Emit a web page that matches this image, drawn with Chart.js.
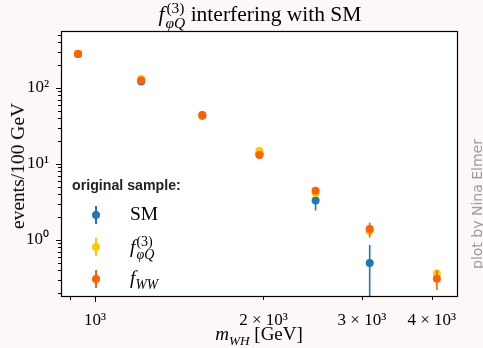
<!DOCTYPE html>
<html>
<head>
<meta charset="utf-8">
<script src="https://cdn.jsdelivr.net/npm/chart.js"></script>
<style>
  body { margin: 0; background: #fdf8f7; }
  #wrap { position: relative; width: 483px; height: 348px; font-family: "Liberation Serif", serif; color: #000; }
  canvas { position: absolute; left: 0; top: 0; }
  .txt { position: absolute; white-space: nowrap; }
  .stack { display: inline-block; vertical-align: -0.45em; line-height: 0.95; font-size: 0.72em; margin-left: 1px; }
  .stack span { display: block; }
  #title { left: 0; width: 520px; top: 1px; text-align: center; font-size: 21.5px; }
  #xlabel { left: 0; width: 518px; top: 323px; text-align: center; font-size: 19px; }
  #ylabel { left: 18px; top: 166px; font-size: 19.5px; transform: translate(-50%, -50%) rotate(-90deg); }
  #credit { left: 477px; top: 204px; font-family: "DejaVu Sans", sans-serif; font-size: 14px; color: #9a9a9a; transform: translate(-50%, -50%) rotate(-90deg); }
  #legtitle { left: 72px; top: 177px; font-family: "Liberation Sans", sans-serif; font-weight: bold; font-size: 14.2px; color: #222; }
  .entry { position: absolute; left: 86px; height: 22px; }
  .mk { position: absolute; left: 0; top: 0; width: 20px; height: 22px; }
  .mk .bar { position: absolute; left: 9px; top: 2px; width: 2px; height: 18px; }
  .mk .dot { position: absolute; left: 6px; top: 7px; width: 8px; height: 8px; border-radius: 50%; }
  .entry .lab { position: absolute; left: 44px; top: -1px; font-size: 19.5px; white-space: nowrap; }
</style>
</head>
<body>
<div id="wrap">
  <canvas id="chart" width="483" height="348"></canvas>
  <div class="txt" id="title"><i>f</i><span class="stack"><span>(3)</span><span><i>φQ</i></span></span> interfering with SM</div>
  <div class="txt" id="xlabel"><i>m</i><sub style="font-size:0.7em"><i>WH</i></sub> [GeV]</div>
  <div class="txt" id="ylabel">events/100 GeV</div>
  <div class="txt" id="credit">plot by Nina Elmer</div>
  <div class="txt" id="legtitle">original sample:</div>
  <div id="legend"></div>
</div>
<script>
const massBins = [932, 1209, 1555, 1967, 2479, 3097, 4084];
const smEvents = [280, 122, 43, 13.5, 3.3, 0.50, null];
const smErrors = [8, 5, 2.5, 1, 0.85, 0.36, null];
const fphiqEvents = [282, 131, 44, 14.8, 4.15, 1.31, 0.36];
const fphiqErrors = [3, 2, 1, 0.4, 0.3, 0.25, 0.05];
const fwwEvents = [280, 125, 44, 13.1, 4.45, 1.40, 0.31];
const fwwErrors = [3, 2, 1, 0.4, 0.35, 0.3, 0.09];

const yMajor = [1, 10, 100];
const yMinor = [0.2, 0.3, 0.4, 0.5, 0.6, 0.7, 0.8, 0.9, 2, 3, 4, 5, 6, 7, 8, 9, 20, 30, 40, 50, 60, 70, 80, 90, 200, 300, 400, 500];
const xMajor = [1000];
const xMinor = [900, 2000, 3000, 4000];
const xLabelled = [1000, 2000, 3000, 4000];

const sup = { '0': '⁰', '1': '¹', '2': '²', '3': '³' };

const colors = { sm: '#1f77b4', fphiq: '#ffc800', fww: '#ff6100' };

function toPoints(vals) {
  return massBins.map((m, i) => ({ x: m, y: vals[i] }));
}

const errorBars = {
  id: 'errorBars',
  beforeDatasetDraw(chart, args) {
    const ds = chart.data.datasets[args.index];
    const xs = chart.scales.x, ys = chart.scales.y, a = chart.chartArea;
    const ctx = chart.ctx;
    ctx.save();
    ctx.beginPath();
    ctx.rect(a.left, a.top, a.right - a.left, a.bottom - a.top);
    ctx.clip();
    ctx.strokeStyle = ds.pointBackgroundColor;
    ctx.lineWidth = 1.6;
    ds.data.forEach((p, i) => {
      const e = ds.errors[i];
      if (p.y == null || e == null) return;
      const px = xs.getPixelForValue(p.x);
      ctx.beginPath();
      ctx.moveTo(px, ys.getPixelForValue(p.y + e));
      ctx.lineTo(px, ys.getPixelForValue(Math.max(p.y - e, 1e-4)));
      ctx.stroke();
    });
    ctx.restore();
  }
};

const frame = {
  id: 'frame',
  beforeDraw(chart) {
    const a = chart.chartArea, ctx = chart.ctx;
    ctx.save();
    ctx.fillStyle = '#ffffff';
    ctx.fillRect(a.left, a.top, a.right - a.left, a.bottom - a.top);
    ctx.restore();
  },
  afterDraw(chart) {
    const a = chart.chartArea, ctx = chart.ctx;
    const xs = chart.scales.x, ys = chart.scales.y;
    ctx.save();
    ctx.strokeStyle = '#000';
    ctx.lineWidth = 1;
    // ticks
    const tick = (x1, y1, x2, y2) => { ctx.beginPath(); ctx.moveTo(x1, y1); ctx.lineTo(x2, y2); ctx.stroke(); };
    yMajor.forEach(v => { const y = Math.round(ys.getPixelForValue(v)) + 0.5; tick(a.left, y, a.left - 5, y); });
    yMinor.forEach(v => { const y = Math.round(ys.getPixelForValue(v)) + 0.5; if (y > a.top && y < a.bottom) tick(a.left, y, a.left - 3, y); });
    xMajor.forEach(v => { const x = Math.round(xs.getPixelForValue(v)) + 0.5; tick(x, a.bottom, x, a.bottom + 5); });
    xMinor.forEach(v => { const x = Math.round(xs.getPixelForValue(v)) + 0.5; tick(x, a.bottom, x, a.bottom + 3); });
    ctx.lineWidth = 1.2;
    ctx.strokeRect(a.left + 0.5, a.top + 0.5, a.right - a.left - 1, a.bottom - a.top - 1);
    ctx.restore();
  }
};

new Chart(document.getElementById('chart'), {
  type: 'scatter',
  data: {
    datasets: [
      { label: 'SM', data: toPoints(smEvents), errors: smErrors, pointBackgroundColor: colors.sm, order: 3 },
      { label: 'fphiQ', data: toPoints(fphiqEvents), errors: fphiqErrors, pointBackgroundColor: colors.fphiq, order: 2 },
      { label: 'fWW', data: toPoints(fwwEvents), errors: fwwErrors, pointBackgroundColor: colors.fww, order: 1 }
    ]
  },
  options: {
    responsive: false,
    animation: false,
    events: [],
    layout: { padding: { left: 0, right: 25, top: 31, bottom: 0 } },
    elements: { point: { radius: 4, borderWidth: 0, hoverRadius: 4 } },
    plugins: { legend: { display: false }, tooltip: { enabled: false } },
    scales: {
      x: {
        type: 'logarithmic',
        min: 869,
        max: 4455,
        grid: { display: false },
        border: { display: false },
        afterBuildTicks: s => { s.ticks = xLabelled.map(v => ({ value: v })); },
        afterFit: s => { s.height = 51; },
        ticks: {
          padding: 5,
          autoSkip: false,
          maxRotation: 0,
          color: '#000',
          font: { family: 'Liberation Serif', size: 17 },
          callback: v => v === 1000 ? '10³' : (v / 1000) + ' × 10³'
        }
      },
      y: {
        type: 'logarithmic',
        min: 0.178,
        max: 562,
        grid: { display: false },
        border: { display: false },
        afterBuildTicks: s => { s.ticks = yMajor.map(v => ({ value: v })); },
        afterFit: s => { s.width = 61; },
        ticks: {
          padding: 4,
          color: '#000',
          font: { family: 'Liberation Serif', size: 17 },
          callback: v => '10' + sup[String(Math.round(Math.log10(v)))]
        }
      }
    }
  },
  plugins: [frame, errorBars]
});

const legendItems = [
  { color: colors.sm, html: 'SM', top: 204 },
  { color: colors.fphiq, html: '<i>f</i><span class="stack"><span>(3)</span><span><i>φQ</i></span></span>', top: 236 },
  { color: colors.fww, html: '<i>f</i><sub style="font-size:0.7em"><i>WW</i></sub>', top: 268 }
];
const leg = document.getElementById('legend');
legendItems.forEach(it => {
  const d = document.createElement('div');
  d.className = 'entry';
  d.style.top = it.top + 'px';
  d.innerHTML = '<div class="mk"><div class="bar" style="background:' + it.color + '"></div><div class="dot" style="background:' + it.color + '"></div></div><div class="lab">' + it.html + '</div>';
  leg.appendChild(d);
});
</script>
</body>
</html>
